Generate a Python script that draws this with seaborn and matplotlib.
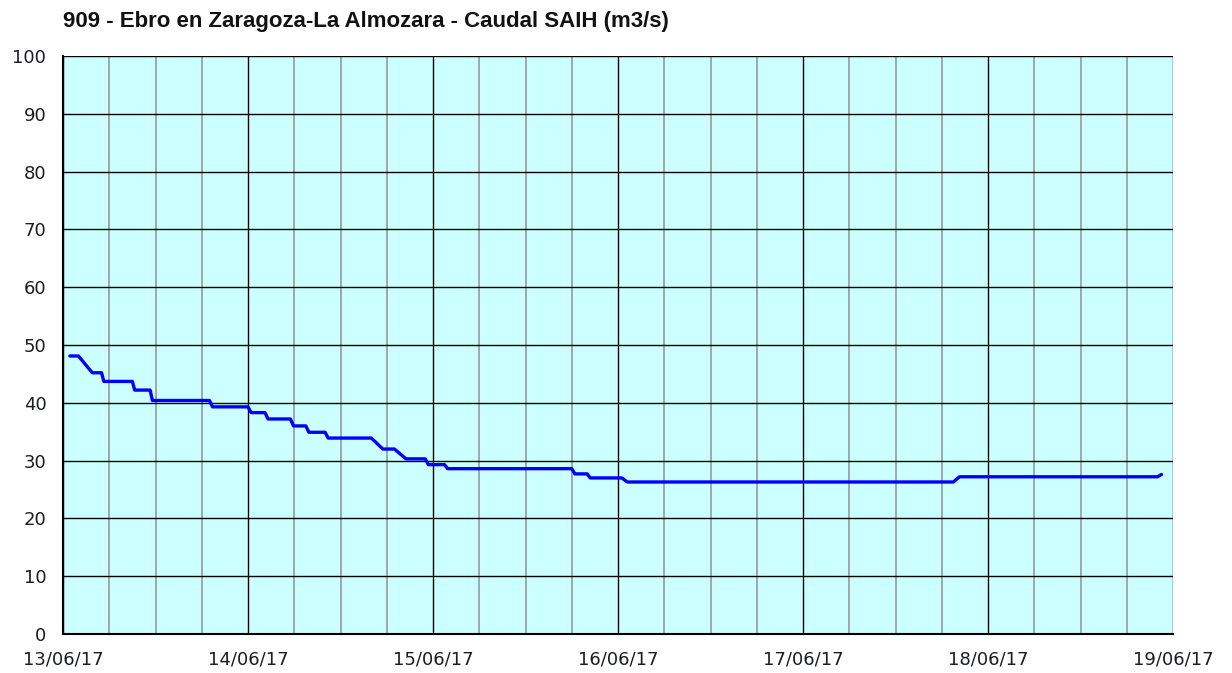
import pandas as pd
import matplotlib.pyplot as plt
import matplotlib.dates as mdates
import seaborn as sns

# hours since 13/06/17 00:00 and flow (m3/s)
hours = [0.9, 2.0, 3.8, 5.0, 5.3, 9.0, 9.3, 11.3, 11.6, 19.0, 19.4, 24.0, 24.4, 26.2,
         26.6, 29.5, 29.9, 31.5, 31.9, 34.0, 34.4, 40.0, 41.5, 43.0, 44.5, 47.0, 47.4,
         49.5, 49.9, 66.0, 66.4, 68.0, 68.4, 72.5, 73.2, 115.5, 116.3, 142.0, 142.5]
flow = [48.1, 48.1, 45.2, 45.2, 43.7, 43.7, 42.2, 42.2, 40.4, 40.4, 39.3, 39.3, 38.3, 38.3,
        37.2, 37.2, 36.0, 36.0, 34.9, 34.9, 33.9, 33.9, 32.0, 32.0, 30.3, 30.3, 29.3,
        29.3, 28.6, 28.6, 27.7, 27.7, 27.0, 27.0, 26.3, 26.3, 27.2, 27.2, 27.6]

title = "909 - Ebro en Zaragoza-La Almozara - Caudal SAIH (m3/s)"
start = pd.Timestamp("2017-06-13")
end = pd.Timestamp("2017-06-19")

df = pd.DataFrame({
    "fecha": start + pd.to_timedelta(hours, unit="h"),
    "caudal": flow,
})

sns.set_style("white")
plt.rcParams["font.family"] = ["DejaVu Sans"]

fig = plt.figure(figsize=(12.32, 6.73), dpi=100)
ax = fig.add_axes([63 / 1232, 1 - 634 / 673, 1110 / 1232, 578 / 673])
ax.set_facecolor("#ccffff")

sns.lineplot(data=df, x="fecha", y="caudal", ax=ax, color="#0000ff", linewidth=2.4)

ax.set_xlim(start, end)
ax.set_ylim(0, 100)
ax.set_yticks(range(0, 101, 10))
ax.xaxis.set_major_locator(mdates.DayLocator())
ax.xaxis.set_major_formatter(mdates.DateFormatter("%d/%m/%y"))
ax.xaxis.set_minor_locator(mdates.HourLocator(byhour=[6, 12, 18]))

# grid: black on days and every 10, grey every 6 hours
ax.grid(True, which="major", color="black", linewidth=1.0)
ax.grid(True, which="minor", axis="x", color="#999999", linewidth=1.2)
ax.set_axisbelow(True)

ax.tick_params(axis="both", which="major", length=5, width=1, color="black",
               labelsize=13, labelcolor="#1c1c28", direction="out", pad=7)
ax.tick_params(axis="x", which="minor", length=0)
ax.set_xlabel("")
ax.set_ylabel("")
for side in ["left", "bottom"]:
    ax.spines[side].set_color("black")
    ax.spines[side].set_linewidth(1.5)
for side in ["right", "top"]:
    ax.spines[side].set_visible(False)

fig.text(63 / 1232, 1 - 21 / 673, title, ha="left", va="center", color="#111111",
         fontsize=16, fontweight="bold", family=["Liberation Sans", "DejaVu Sans"])

fig.savefig("out.png", dpi=100, facecolor="white")
